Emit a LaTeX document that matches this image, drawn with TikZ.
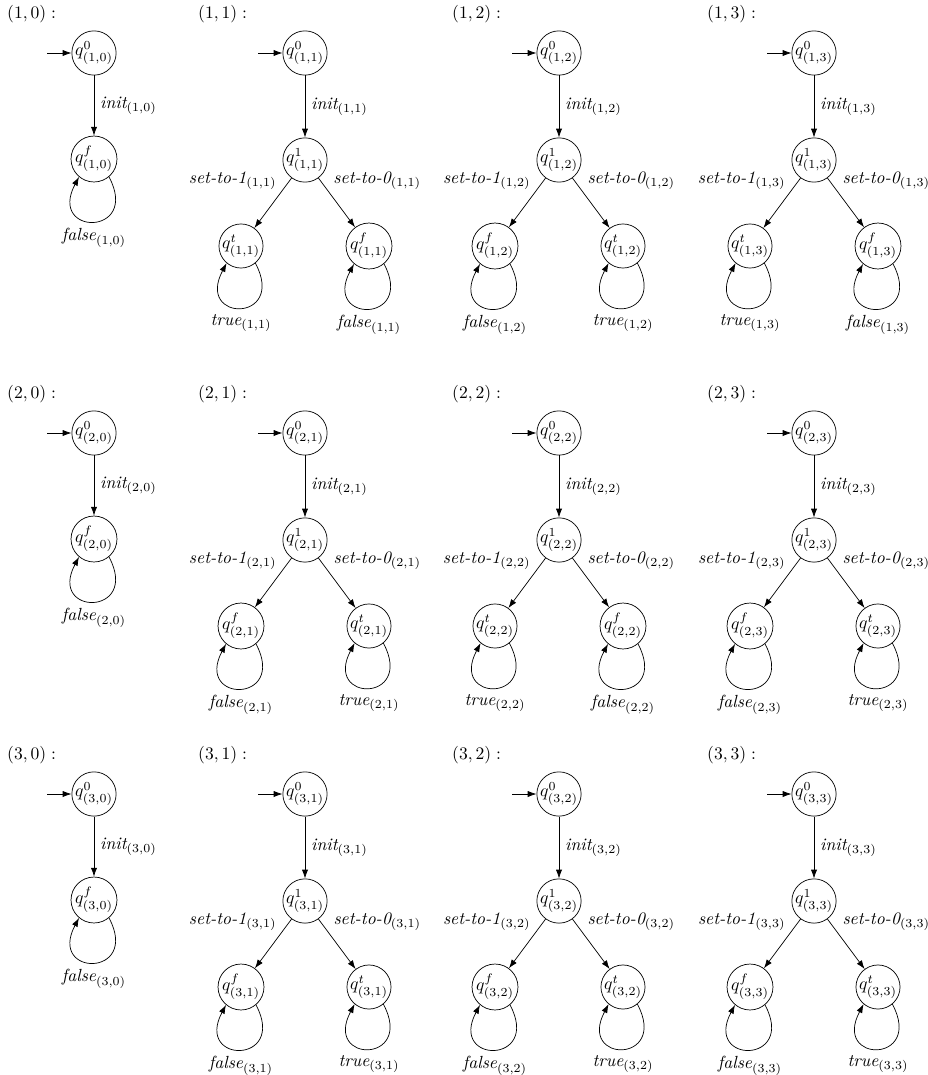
\documentclass[tikz,border=0pt]{standalone}
\usepackage{amsmath}
\usepackage{tikz}
\usetikzlibrary{arrows.meta,positioning}
\newcommand{\stname}[3]{$q^{#1}_{(#2,#3)}$}
\newcommand{\lab}[3]{$\textit{#1}_{(#2,#3)}$}
\newcommand{\valword}[1]{\if t#1true\else false\fi}

\begin{document}
\begin{tikzpicture}[
  x=0.02cm, y=-0.02cm,
  st/.style={draw, circle, inner sep=0pt, minimum size=24pt},
  ar/.style={-{Latex[length=5pt,width=3.5pt]}}
]
\useasboundingbox (0,0) rectangle (927,1075);
% first column: init then false
\foreach \r/\y in {1/53, 2/433, 3/794} {
  \node[anchor=west] (h-\r0) at (1,\y-39) {$(\r,0):$};
  \node[st] (q0-\r0) at (94,\y) {\stname{0}{\r}{0}};
  \node[st] (qf-\r0) at (94,\y+106) {\stname{f}{\r}{0}};
  \coordinate (in-\r0) at (47,\y);
  \draw[ar] (in-\r0) -- (q0-\r0);
  \draw[ar] (q0-\r0) -- node[right] {\lab{init}{\r}{0}} (qf-\r0);
  \draw[ar] (qf-\r0.-50) .. controls +(-62:1.35cm) and +(-118:1.35cm) .. (qf-\r0.-130)
    node[midway, below] {\lab{false}{\r}{0}};
}
% other columns: init, then set-to-1 / set-to-0
\foreach \r/\c/\x/\y/\L/\R in {1/1/305/53/t/f, 1/2/559/53/f/t, 1/3/814/53/t/f,
                             2/1/305/433/f/t, 2/2/559/433/t/f, 2/3/814/433/f/t,
                             3/1/305/794/f/t, 3/2/559/794/f/t, 3/3/814/794/f/t} {
  \node[anchor=west] (h-\r\c) at (\x-113,\y-39) {$(\r,\c):$};
  \node[st] (q0-\r\c) at (\x,\y) {\stname{0}{\r}{\c}};
  \node[st] (q1-\r\c) at (\x,\y+107) {\stname{1}{\r}{\c}};
  \node[st] (ql-\r\c) at (\x-64,\y+193) {\stname{\L}{\r}{\c}};
  \node[st] (qr-\r\c) at (\x+64,\y+193) {\stname{\R}{\r}{\c}};
  \coordinate (in-\r\c) at (\x-47,\y);
  \draw[ar] (in-\r\c) -- (q0-\r\c);
  \draw[ar] (q0-\r\c) -- node[right] {\lab{init}{\r}{\c}} (q1-\r\c);
  \draw[ar] (q1-\r\c) -- node[pos=0.05, left=4pt] {\lab{set-to-1}{\r}{\c}} (ql-\r\c);
  \draw[ar] (q1-\r\c) -- node[pos=0.05, right=4pt] {\lab{set-to-0}{\r}{\c}} (qr-\r\c);
  \draw[ar] (ql-\r\c.-50) .. controls +(-62:1.35cm) and +(-118:1.35cm) .. (ql-\r\c.-130)
    node[midway, below] {\lab{\valword{\L}}{\r}{\c}};
  \draw[ar] (qr-\r\c.-50) .. controls +(-62:1.35cm) and +(-118:1.35cm) .. (qr-\r\c.-130)
    node[midway, below] {\lab{\valword{\R}}{\r}{\c}};
}
\end{tikzpicture}
\end{document}
